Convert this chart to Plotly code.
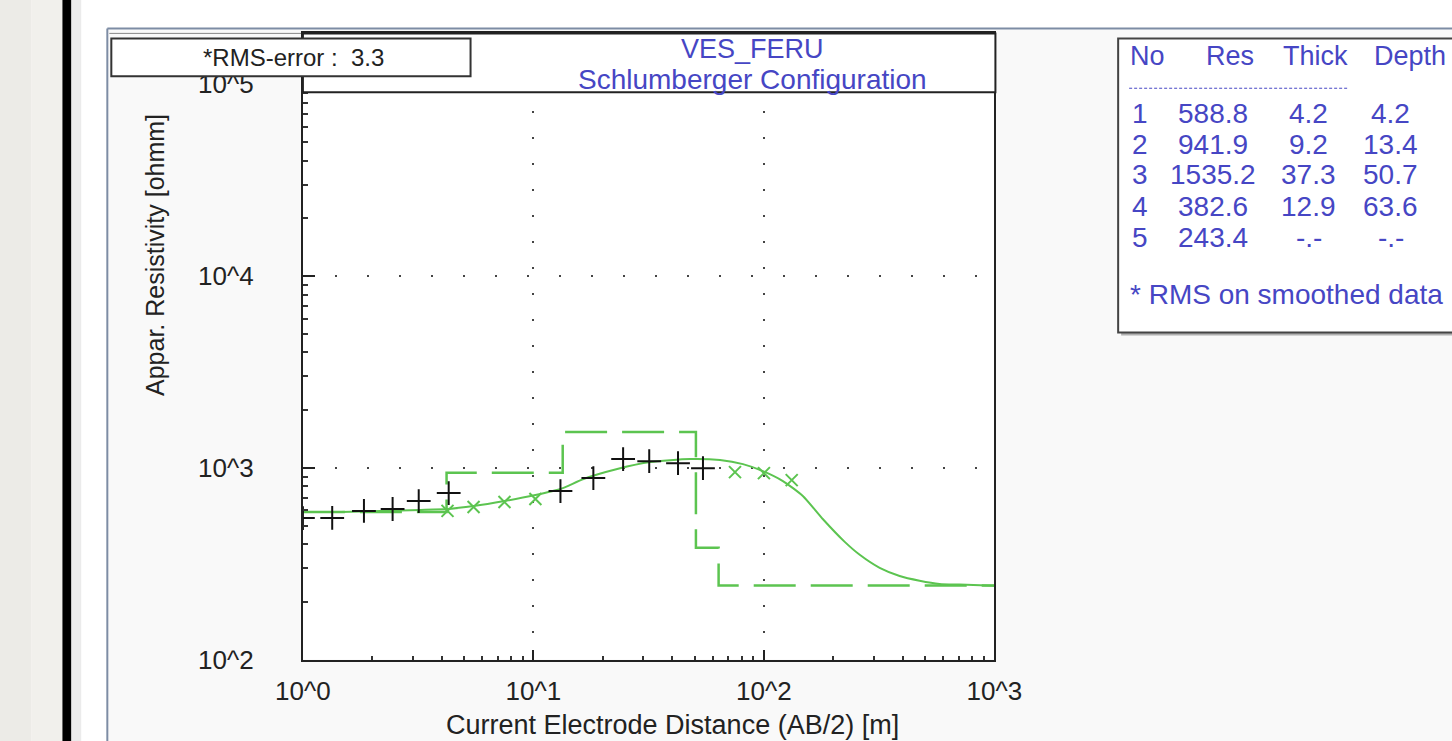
import plotly.graph_objects as go

# ---------------- data ----------------
obs_ab2 = [1.0, 1.34, 1.84, 2.45, 3.18, 4.29, 13.1, 18.2, 24.5, 31.8, 42.4, 54.4]
obs_rho = [547, 548, 596, 610, 671, 738, 756, 884, 1110, 1083, 1057, 996]

smooth_ab2 = [4.24, 5.5, 7.49, 10.2, 74.9, 100, 132]
smooth_rho = [596, 625, 663, 688, 950, 938, 863]

model_ab2 = [1.0, 1.46, 2.18, 3.24, 4.24, 5.50, 7.49, 10.2, 13.1, 16.5, 23.1, 32.1,
             47.8, 64.5, 81.1, 99.0, 120.9, 147.5, 180.0, 224.2, 260.4, 317.8,
             387.9, 473.5, 578.0, 705.5, 1000]
model_rho = [588, 588, 596, 603, 610, 632, 671, 721, 775, 874, 985, 1071,
             1110, 1097, 1045, 961, 853, 713, 541, 411, 352, 301,
             273, 258, 248, 246, 243]

layer_no = [1, 2, 3, 4, 5]
layer_res = [588.8, 941.9, 1535.2, 382.6, 243.4]
layer_thick = [4.2, 9.2, 37.3, 12.9, None]
layer_depth = [4.2, 13.4, 50.7, 63.6, None]
rms_error = 3.3

x_tick_vals = [1, 10, 100, 1000]
x_tick_text = ["10^0", "10^1", "10^2", "10^3"]
y_tick_vals = [100, 1000, 10000, 100000]
y_tick_text = ["10^2", "10^3", "10^4", "10^5"]

# ---------------- layout helpers ----------------
W, H = 1452, 741
# positions below are given in target-picture pixels and mapped to paper fractions
SX, OX = 0.9635, 26.5
SY, OY = 0.9826, -0.5
def PX(x):
    return ((x - OX) / SX) / W
def PY(y):
    return 1 - ((y - OY) / SY) / H

FONT = "Liberation Sans, Arial, sans-serif"
GREEN = "#5cc450"
BLUE = "#4646c4"

# step model line built from layer table
step_x, step_y = [], []
x_max = 1000
for i, r in enumerate(layer_res):
    top = 1 if i == 0 else layer_depth[i - 1]
    bot = layer_depth[i] if layer_depth[i] is not None else x_max
    step_x += [top, bot]
    step_y += [r, r]

fig = go.Figure()
fig.add_trace(go.Scatter(x=step_x, y=step_y, mode="lines",
                         line=dict(color=GREEN, width=2.5, dash="42px,15px"),
                         hoverinfo="skip"))
fig.add_trace(go.Scatter(x=model_ab2, y=model_rho, mode="lines",
                         line=dict(color=GREEN, width=2, shape="spline", smoothing=0.6)))
fig.add_trace(go.Scatter(x=smooth_ab2, y=smooth_rho, mode="markers",
                         marker=dict(symbol="x-thin", size=12,
                                     line=dict(color=GREEN, width=2))))
fig.add_trace(go.Scatter(x=obs_ab2, y=obs_rho, mode="markers",
                         marker=dict(symbol="cross-thin", size=17,
                                     line=dict(color="#111111", width=2))))

x0p, x1p, y_bot, y_top = 302, 995, 661, 33
y_range_top = 5 + (84 - y_top) / 192.3

fig.update_xaxes(type="log", range=[0, 3], domain=[PX(x0p), PX(x1p)],
                 tickvals=x_tick_vals, ticktext=x_tick_text,
                 ticks="inside", ticklen=10, tickwidth=1.5, tickcolor="#222",
                 minor=dict(ticks="inside", ticklen=4, tickcolor="#333", dtick="D1", showgrid=False),
                 showline=True, linecolor="#222", linewidth=2, mirror=True,
                 showgrid=True, gridcolor="#444", gridwidth=2, griddash="2px,24px",
                 tickfont=dict(family=FONT, size=26, color="#222"),
                 ticklabelstandoff=7, zeroline=False)
fig.update_yaxes(type="log", range=[2, y_range_top], domain=[PY(y_bot), PY(y_top)],
                 tickvals=y_tick_vals, ticktext=y_tick_text,
                 ticks="inside", ticklen=12, tickwidth=1.5, tickcolor="#222",
                 minor=dict(ticks="inside", ticklen=5, tickcolor="#333", dtick="D1", showgrid=False),
                 showline=True, linecolor="#222", linewidth=2, mirror=True,
                 showgrid=True, gridcolor="#444", gridwidth=2, griddash="2px,30px",
                 tickfont=dict(family=FONT, size=26, color="#222"),
                 ticklabelstandoff=42, zeroline=False)

shapes = []
def rect(x0, y0, x1, y1, fill, line_color=None, lw=0, layer="below"):
    shapes.append(dict(type="rect", xref="paper", yref="paper",
                       x0=PX(x0), x1=PX(x1), y0=PY(y1), y1=PY(y0),
                       fillcolor=fill, layer=layer,
                       line=dict(color=line_color or fill, width=lw)))
def line(x0, y0, x1, y1, color, lw, dash="solid", layer="above"):
    shapes.append(dict(type="line", xref="paper", yref="paper",
                       x0=PX(x0), x1=PX(x1), y0=PY(y0), y1=PY(y1), layer=layer,
                       line=dict(color=color, width=lw, dash=dash)))

# window background pieces
rect(-40, -20, 30, 780, "#ecebe7")
rect(30, -20, 61, 780, "#f1f0ec")
rect(61, -20, 70, 780, "#000000")
rect(70, -20, 80, 780, "#ebebeb")
rect(80, -20, 1500, 780, "#ffffff")
rect(107, 29, 1500, 780, "#f9f9f9")
rect(x0p, y_top, x1p, y_bot, "#ffffff")
line(106, 28, 106, 780, "#7d8ca4", 2, layer="below")
line(106, 28, 1500, 28, "#7d8ca4", 2, layer="below")
line(108, 33, 302, 33, "#888888", 1, layer="below")
# title box over the top of the plot
rect(302, 33, 996, 92, "#ffffff", "#222222", 2, layer="above")
# RMS box
rect(110, 38, 470, 76, "#ffffff", "#333333", 2, layer="above")
# layer table box
rect(1122, 41, 1500, 336, "#b0b0b0", layer="above")
rect(1119, 38, 1500, 333, "#ffffff", "#444444", 2, layer="above")
line(1130, 88, 1350, 88, BLUE, 1, dash="3px,2px")

ann = []
def text(x, y, s, size=24, color="#222", anchor="center", angle=0):
    ann.append(dict(x=PX(x), y=PY(y), xref="paper", yref="paper", text=s,
                    showarrow=False, xanchor=anchor, yanchor="middle", textangle=angle,
                    font=dict(family=FONT, size=size, color=color)))

text(293, 57, f"*RMS-error :  {rms_error}", size=24, color="#222")
text(753, 49, "VES_FERU", size=27, color=BLUE)
text(753, 79, "Schlumberger Configuration", size=28, color=BLUE)
text(672, 727, "Current Electrode Distance (AB/2) [m]", size=27, color="#222")
text(154, 255, "Appar. Resistivity [ohmm]", size=25, color="#222", angle=-90)

# table
col_x = [1148, 1231, 1317, 1411]
for cx, h in zip(col_x, ["No", "Res", "Thick", "Depth"]):
    text(cx, 56, h, size=27, color=BLUE)
row_y = [113, 144, 175, 207, 238]
cell_x = [1141, 1214, 1310, 1392]
for ry, n, r, t, d in zip(row_y, layer_no, layer_res, layer_thick, layer_depth):
    vals = [str(n), f"{r:.1f}",
            f"{t:.1f}" if t is not None else "-.-",
            f"{d:.1f}" if d is not None else "-.-"]
    for cx, v in zip(cell_x, vals):
        text(cx, ry, v, size=28, color=BLUE)
text(1129, 295, "* RMS on smoothed data", size=28, color=BLUE, anchor="left")

fig.update_layout(autosize=True,
                  margin=dict(l=0, r=0, t=0, b=0),
                  paper_bgcolor="#fcfcfc", plot_bgcolor="#ffffff",
                  showlegend=False, shapes=shapes, annotations=ann)

fig.write_html("out.html",
               config={"responsive": True, "displayModeBar": False},
               default_width="100vw", default_height="100vh",
               post_script="document.body.style.margin='0';"
                           "document.body.style.overflow='hidden';"
                           "document.documentElement.style.overflow='hidden';"
                           "Plotly.Plots.resize(document.getElementById('{plot_id}'));")
